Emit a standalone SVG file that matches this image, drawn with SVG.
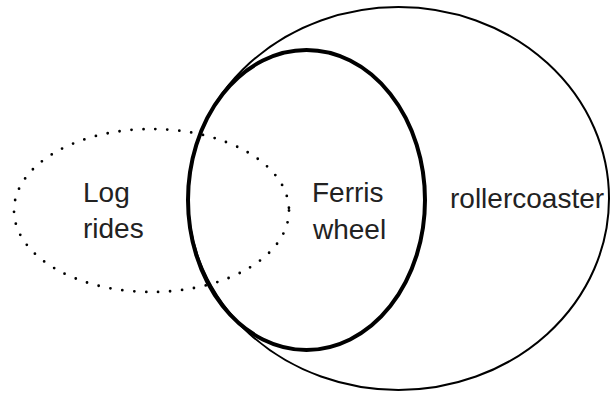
<svg xmlns="http://www.w3.org/2000/svg" width="611" height="393" viewBox="0 0 611 393">
  <style>
    .set { fill: none; stroke: #000; }
    .label { font-family: "Liberation Sans", Arial, sans-serif; font-size: 28px; fill: #222; }
  </style>
  <rect width="611" height="393" fill="#fff"/>
  <g id="rollercoaster">
    <ellipse class="set" cx="398.5" cy="198.5" rx="210.5" ry="191.5" stroke-width="2"/>
    <text class="label" x="450" y="208">rollercoaster</text>
  </g>
  <g id="log-rides">
    <ellipse class="set" cx="151.5" cy="210.5" rx="137.5" ry="81.5" stroke-width="2.8" stroke-dasharray="0 12" stroke-linecap="round" stroke="#222"/>
    <text class="label" x="83" y="202">Log</text>
    <text class="label" x="83" y="238">rides</text>
  </g>
  <g id="ferris-wheel">
    <ellipse class="set" cx="306.5" cy="200" rx="118.5" ry="150" stroke-width="4"/>
    <text class="label" x="312" y="202">Ferris</text>
    <text class="label" x="313" y="239">wheel</text>
  </g>
  <g id="connectors"/>
</svg>
